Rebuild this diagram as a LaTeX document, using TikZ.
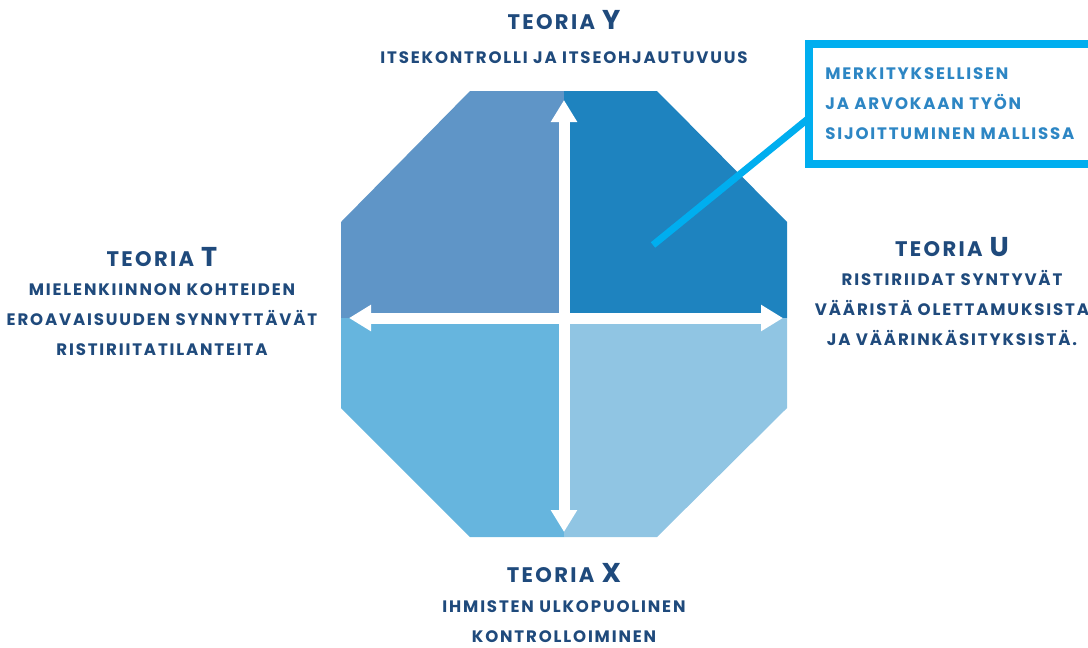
\documentclass[tikz,border=0pt]{standalone}
\usepackage{fontspec}
\setmainfont{Poppins}
\newfontfamily\spacedfont{Poppins}[LetterSpace=11]
\usetikzlibrary{arrows.meta}
\usetikzlibrary{positioning}
\definecolor{quadtl}{HTML}{5F95C7}
\definecolor{quadtr}{HTML}{1E83BF}
\definecolor{quadbl}{HTML}{66B5DE}
\definecolor{quadbr}{HTML}{90C5E3}
\definecolor{calloutcyan}{HTML}{00AEEF}
\definecolor{textblue}{HTML}{1F4A7C}
\definecolor{callouttext}{HTML}{2D86C4}
\tikzstyle{theory}=[text=textblue,anchor=base,inner sep=0pt,font=\spacedfont\bfseries\fontsize{12}{12}\selectfont]
\tikzstyle{desc}=[text=textblue,anchor=base,inner sep=0pt,align=center,font=\spacedfont\bfseries\fontsize{9.45}{16.8}\selectfont]
\tikzstyle{crossarrow}=[white,line width=0.22cm,{Triangle[width=0.5cm,length=0.44cm]}-{Triangle[width=0.5cm,length=0.44cm]}]
\newcommand{\bigletter}[1]{\hspace{4pt}\fontsize{15.5}{16}\selectfont #1}

\begin{document}
\begin{tikzpicture}[x=0.02cm,y=-0.02cm]
\clip (0,0) rectangle (1088,647);

%octagon
    \foreach \pos/\name in {{(470,91)/o1}, {(657,91)/o2}, {(787,222)/o3}, {(787,408)/o4}, {(657,537)/o5}, {(470,537)/o6}, {(341,408)/o7}, {(341,222)/o8}, {(564,318)/c}, {(564,91)/tm}, {(564,537)/bm}, {(341,318)/lm}, {(787,318)/rm}}
        \path \pos coordinate (\name);

    \foreach \a/\b/\d/\e/\col in {tm/o1/o8/lm/quadtl, tm/o2/o3/rm/quadtr, lm/o7/o6/bm/quadbl, rm/o4/o5/bm/quadbr}
        \fill[\col] (c) -- (\a) -- (\b) -- (\d) -- (\e) -- cycle;

%arrows
    \coordinate (ytip) at (564,100);
    \coordinate (xtip) at (564,532);
    \coordinate (ttip) at (349,318);
    \coordinate (utip) at (783,318);
    \draw[crossarrow] (ytip) -- (xtip);
    \draw[crossarrow] (ttip) -- (utip);

%labels (multi-line nodes sit on their last baseline)
    \node[theory] (theoryY) at (564,29) {TEORIA\bigletter{Y}};
    \node[desc] (descY) at (564,63) {ITSEKONTROLLI JA ITSEOHJAUTUVUUS};

    \node[theory] (theoryT) at (162,266) {TEORIA\bigletter{T}};
    \node[desc] (descT) at (162,355) {MIELENKIINNON KOHTEIDEN\\EROAVAISUUDEN SYNNYTTÄVÄT\\RISTIRIITATILANTEITA};

    \node[theory] (theoryU) at (952,256) {TEORIA\bigletter{U}};
    \node[desc] (descU) at (952,345) {RISTIRIIDAT SYNTYVÄT\\VÄÄRISTÄ OLETTAMUKSISTA\\JA VÄÄRINKÄSITYKSISTÄ.};

    \node[theory] (theoryX) at (564,582) {TEORIA\bigletter{X}};
    \node[desc] (descX) at (564,642) {IHMISTEN ULKOPUOLINEN\\KONTROLLOIMINEN};

%callout
    \coordinate (boxnw) at (809,44);
    \coordinate (boxse) at (1130,164);
    \coordinate (pin) at (653,245);
    \coordinate (boxjoin) at (809,118);
    \draw[calloutcyan,line width=0.16cm] (boxnw) rectangle (boxse);
    \draw[calloutcyan,line width=0.14cm] (pin) -- (boxjoin);
    \node[desc,text=callouttext,align=left,anchor=base west] (callouttxt) at (825,139) {MERKITYKSELLISEN\\JA ARVOKAAN TYÖN\\SIJOITTUMINEN MALLISSA};

\end{tikzpicture}
\end{document}
